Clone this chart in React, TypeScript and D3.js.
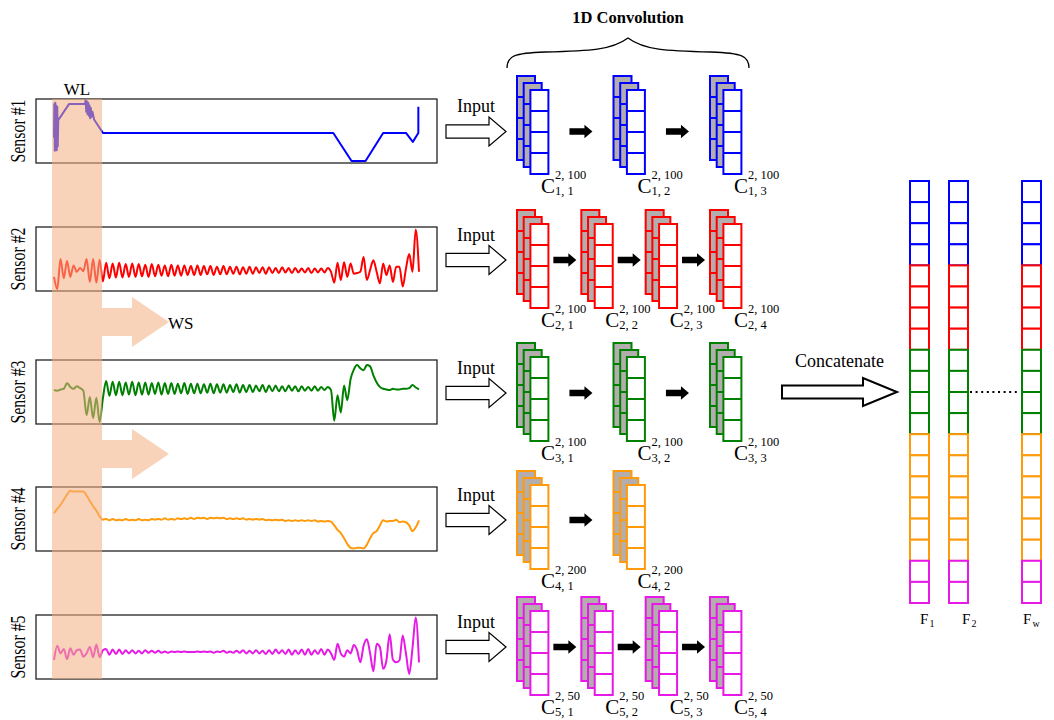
import React from "react";
import * as d3 from "d3";

const W = 1054;
const H = 720;
const FONT = "'Liberation Serif', 'Times New Roman', serif";

// ---- data -------------------------------------------------------------
const sensorNames = ["Sensor #1", "Sensor #2", "Sensor #3", "Sensor #4", "Sensor #5"];
const sensorColors = ["#0000ff", "#ff0000", "#008000", "#ff9a0a", "#e619e6"];

// Sensor #1 is piecewise: [time step, normalised reading]
const sensor1: [number, number][] = [
  [0, 40], [0.1, 92], [0.25, 19], [0.4, 94], [0.55, 22], [0.7, 90], [0.85, 20], [1.0, 88], [1.15, 26], [1.3, 67],
  [4.6, 92], [9.5, 92], [9.7, 98], [9.9, 80], [10.1, 96], [10.3, 76], [10.5, 94], [10.7, 74], [10.9, 90],
  [11.1, 70], [11.3, 86], [11.5, 72], [11.8, 80], [12.3, 68],
  [15, 47], [85.7, 47], [91.3, 3], [95.6, 3], [101, 47], [108, 47], [110.1, 33], [111.8, 47], [111.8, 88],
];

// Sensors #2..#5: one normalised reading per time step (113 steps)
const sensor2: number[] = [
  22, 3, 50, 20, 47, 22, 40, 30, 36, 31, 50, 14, 50, 13, 49, 15,
  44, 20, 43, 21, 44, 21, 42, 22, 43, 22,
  42, 23, 41, 22, 42, 23, 41, 24, 40, 23,
  41, 24, 40, 24, 40, 25, 39, 25, 40, 25,
  39, 26, 39, 25, 38, 26, 39, 26, 38, 27,
  38, 26, 37, 27, 38, 27, 37, 28, 37, 27,
  37, 28, 36, 28, 37, 29, 36, 28, 36, 29,
  35, 29, 36, 28, 35, 29, 35, 29, 36,
  30, 13, 44, 17, 45, 22, 43, 27, 28, 30,
  53, 17, 33, 48, 30, 12, 43, 25, 40, 14,
  38, 38, 7, 35, 58, 30, 96, 30,
];

const sensor3: number[] = [
  53, 52, 54, 55, 64, 58, 55, 59, 56, 52, 14, 42, 9, 41, 3, 40,
  67, 44, 66, 45, 66, 45, 65, 46, 66, 45,
  65, 46, 65, 46, 64, 47, 65, 46, 64, 47,
  64, 47, 63, 48, 64, 47, 63, 48, 63, 48,
  62, 49, 63, 48, 62, 49, 62, 49, 61, 50,
  62, 49, 61, 50, 61, 50, 60, 51, 61, 50,
  60, 51, 60, 51, 59, 51, 60, 52, 59, 51,
  59, 52, 58, 52, 59, 52, 58, 53, 58, 53,
  5, 45, 18, 60, 37, 70, 85, 92, 87, 84,
  92, 90, 76, 65, 58, 55, 54, 53, 55, 54,
  54, 55, 55, 56, 61, 57, 54,
];

const sensor4: number[] = [
  59, 66, 72, 80, 88, 94, 93, 93, 93, 93, 87, 78, 70, 63, 54, 49,
  50, 48, 50, 48, 49, 48, 50, 48, 49, 48,
  50, 48, 49, 48, 50, 49, 50, 49, 51, 49,
  50, 49, 51, 50, 51, 50, 52, 50, 52, 51,
  52, 50, 52, 51, 52, 51, 52, 50, 51, 50,
  51, 50, 51, 49, 50, 49, 50, 49, 50, 48,
  49, 48, 49, 48, 49, 47, 48, 47, 48, 47,
  48, 47, 48, 47, 48, 46, 47, 46, 47, 46,
  40, 33, 28, 20, 11, 5, 4, 5, 5, 4,
  10, 20, 28, 31, 40, 48, 46, 47, 47, 49,
  45, 46, 45, 40, 31, 37, 48,
];

const sensor5: number[] = [
  30, 52, 40, 47, 31, 48, 38, 45, 46, 35, 40, 50, 34, 54, 34, 45,
  47, 38, 46, 39, 46, 39, 45, 40, 45, 40,
  44, 40, 45, 41, 44, 41, 44, 41, 43, 41,
  43, 42, 43, 42, 43, 42, 42, 42, 43, 42,
  43, 42, 43, 41, 43, 42, 44, 41, 43, 41,
  44, 41, 45, 40, 44, 40, 45, 40, 44, 39,
  45, 39, 46, 40, 45, 39, 46, 38, 45, 39,
  46, 38, 47, 38, 45, 39, 47, 38, 46, 40,
  30, 55, 40, 35, 45, 40, 53, 45, 26, 52,
  62, 40, 12, 55, 50, 16, 29, 70, 30, 26,
  29, 68, 40, 8, 48, 96, 26,
];

const sampledSensors = [sensor2, sensor3, sensor4, sensor5];

// convolution stages per sensor branch and their filter spec
const convBlockCounts = [3, 4, 3, 2, 4];
const convFilters = ["2, 100", "2, 100", "2, 100", "2, 200", "2, 50"];

// cells contributed by each sensor to a concatenated feature vector
const featureCellCounts = [4, 4, 4, 6, 2];
const featureNames: [string, string][] = [["F", "1"], ["F", "2"], ["F", "w"]];

// ---- layout -----------------------------------------------------------
const boxX0 = 36;
const boxX1 = 437;
const boxH = 64;
const boxTops = [99, 227, 360, 487, 615];
const lineX0 = 54;
const lineX1 = 419;
const bandX0 = 52;
const bandX1 = 102;
const bandFill = "#f4b183";
const bandOpacity = 0.56;

const rowTops = [76, 210, 343, 471, 597];
const rowArrowY = [131.5, 260, 393, 520, 647];
const blockX0 = 517;
const blockX1 = 710;
const layerW = 18;
const cellH = 21;
const layerDx = 6.7;
const layerDy = 7;
const grayFill = "#b3adad";

const featX = [910, 949, 1022];
const featW = 19;
const featTop = 181;
const featCellH = 21.1;
const featLabelX = [920, 962, 1023];

function HollowArrow({ x0, x1, headX, cy, shaftHalf, headHalf, sw }: any) {
  const pts = [
    [x0, cy - shaftHalf], [headX, cy - shaftHalf], [headX, cy - headHalf], [x1, cy],
    [headX, cy + headHalf], [headX, cy + shaftHalf], [x0, cy + shaftHalf],
  ];
  return <polygon points={pts.map((p) => p.join(",")).join(" ")} fill="#fff" stroke="#000" strokeWidth={sw} strokeLinejoin="miter" />;
}

function SolidArrow({ cx, cy }: { cx: number; cy: number }) {
  const x0 = cx - 11.5, x1 = cx + 11.5, hx = cx + 3.5;
  const pts = [
    [x0, cy - 3.3], [hx, cy - 3.3], [hx, cy - 6.7], [x1, cy], [hx, cy + 6.7], [hx, cy + 3.3], [x0, cy + 3.3],
  ];
  return <polygon points={pts.map((p) => p.join(",")).join(" ")} fill="#000" />;
}

function ConvBlock({ bx, top, color }: { bx: number; top: number; color: string }) {
  return (
    <g>
      {[0, 1, 2].map((k) => {
        const x = bx + k * layerDx;
        const y = top + k * layerDy;
        return (
          <g key={k}>
            <rect x={x} y={y} width={layerW} height={cellH * 4} fill={k < 2 ? grayFill : "#fff"} stroke={color} strokeWidth={2} />
            {[1, 2, 3].map((c) => (
              <line key={c} x1={x} x2={x + layerW} y1={y + c * cellH} y2={y + c * cellH} stroke={color} strokeWidth={2} />
            ))}
          </g>
        );
      })}
    </g>
  );
}

export default function App() {
  const xStep = d3.scaleLinear().domain([0, 112]).range([lineX0, lineX1]);

  const sensorPaths = boxTops.map((top, s) => {
    const y = d3.scaleLinear().domain([0, 100]).range([top + boxH, top]);
    if (s === 0) {
      return d3.line<[number, number]>().x((d) => xStep(d[0])).y((d) => y(d[1]))(sensor1) || "";
    }
    const vals = sampledSensors[s - 1];
    return (
      d3
        .line<number>()
        .x((_, i) => xStep(i))
        .y((d) => y(d))
        .curve(d3.curveMonotoneX)(vals) || ""
    );
  });

  const groupStarts = d3.cumsum([0, ...featureCellCounts]);
  const totalCells = d3.sum(featureCellCounts);

  return (
    <svg width={W} height={H} viewBox={`0 0 ${W} ${H}`} style={{ display: "block", position: "absolute", left: 0, top: 0, background: "#fff" }} fontFamily={FONT}>
      <rect x={0} y={0} width={W} height={H} fill="#fff" />

      {/* sensor panels */}
      {boxTops.map((top, s) => (
        <g key={s}>
          <rect x={boxX0} y={top} width={boxX1 - boxX0} height={boxH} fill="none" stroke="#222" strokeWidth={1.3} />
          <path d={sensorPaths[s]} fill="none" stroke={sensorColors[s]} strokeWidth={2} strokeLinejoin="round" />
          <text
            transform={`translate(25,${top + boxH / 2}) rotate(-90)`}
            textAnchor="middle"
            fontSize={21}
            textLength={63}
            lengthAdjust="spacingAndGlyphs"
            fill="#000"
          >
            {sensorNames[s]}
          </text>
        </g>
      ))}

      {/* sliding window */}
      <rect x={bandX0} y={boxTops[0]} width={bandX1 - bandX0} height={boxTops[4] + boxH - boxTops[0]} fill={bandFill} opacity={bandOpacity} />
      <text x={(bandX0 + bandX1) / 2} y={95} textAnchor="middle" fontSize={17}>WL</text>
      {[322, 454].map((cy, i) => (
        <polygon
          key={i}
          points={[
            [bandX1, cy - 14], [132, cy - 14], [132, cy - 25], [169, cy], [132, cy + 25], [132, cy + 14], [bandX1, cy + 14],
          ].map((p) => p.join(",")).join(" ")}
          fill={bandFill}
          opacity={bandOpacity}
        />
      ))}
      <text x={168} y={329} fontSize={17}>WS</text>

      {/* 1D convolution title and brace */}
      <text x={628} y={22.5} textAnchor="middle" fontSize={16.5} fontWeight="bold">1D Convolution</text>
      <path
        d="M507,68 C507,56 514,53 545,52 C590,51 612,50 628,38 C644,50 666,51 711,52 C742,53 749,56 749,68"
        fill="none"
        stroke="#000"
        strokeWidth={1.3}
      />

      {/* convolution branches */}
      {rowTops.map((top, r) => {
        const n = convBlockCounts[r];
        const step = n === 4 ? (blockX1 - blockX0) / 3 : (blockX1 - blockX0) / 2;
        const xs = d3.range(n).map((i) => blockX0 + i * step);
        const cy = rowArrowY[r];
        const color = sensorColors[r];
        const blockRight = layerW + 2 * layerDx;
        return (
          <g key={r}>
            <text x={476} y={cy - 19.5} textAnchor="middle" fontSize={18}>Input</text>
            <HollowArrow x0={446} x1={506} headX={489} cy={cy} shaftHalf={6.7} headHalf={14.4} sw={1.2} />
            {xs.map((bx, i) => (
              <g key={i}>
                <ConvBlock bx={bx} top={top} color={color} />
                <text x={bx + 24} y={top + 116.5} fontSize={21}>C</text>
                <text x={bx + 38} y={top + 103} fontSize={12.5}>{convFilters[r]}</text>
                <text x={bx + 38} y={top + 118.5} fontSize={12.5}>{`${r + 1}, ${i + 1}`}</text>
                {i < n - 1 && <SolidArrow cx={(bx + blockRight + xs[i + 1]) / 2} cy={cy} />}
              </g>
            ))}
          </g>
        );
      })}

      {/* concatenation */}
      <text x={795} y={367} fontSize={18}>Concatenate</text>
      <HollowArrow x0={782} x1={897} headX={863} cy={392} shaftHalf={6.5} headHalf={14} sw={2} />

      {featX.map((fx, c) => (
        <g key={c}>
          {d3.range(totalCells).map((j) => {
            const g = featureCellCounts.findIndex((_, k) => j >= groupStarts[k] && j < groupStarts[k + 1]);
            return (
              <rect key={j} x={fx} y={featTop + j * featCellH} width={featW} height={featCellH} fill="#fff" stroke={sensorColors[g]} strokeWidth={2} />
            );
          })}
          <text x={featLabelX[c]} y={624} fontSize={15}>{featureNames[c][0]}</text>
          <text x={featLabelX[c] + 9.5} y={627} fontSize={10}>{featureNames[c][1]}</text>
        </g>
      ))}
      <line x1={970} x2={1019} y1={392} y2={392} stroke="#000" strokeWidth={2} strokeDasharray="2 3.6" />
    </svg>
  );
}
